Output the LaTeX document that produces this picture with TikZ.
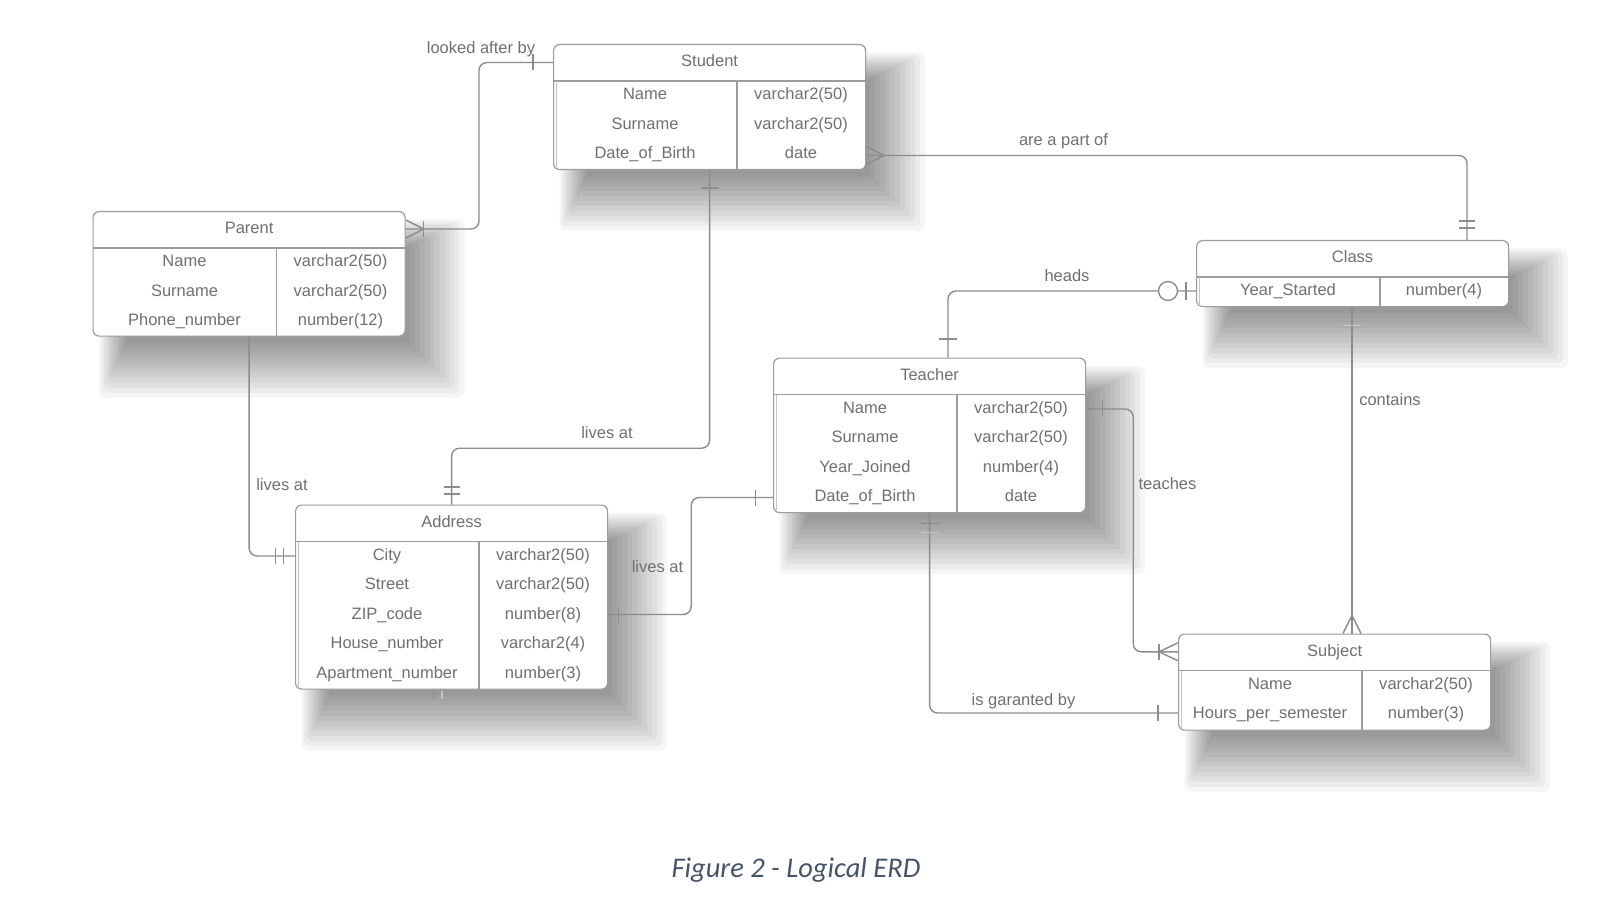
\documentclass[tikz,border=0pt]{standalone}
\usepackage{fontspec}
\setmainfont{Liberation Sans}
\newfontfamily\capfam{Carlito}
\usetikzlibrary{calc,backgrounds}
\definecolor{lngray}{HTML}{8C8C8C}
\definecolor{bxgray}{HTML}{9C9C9C}
\definecolor{txgray}{HTML}{707070}
\definecolor{capblue}{HTML}{44546A}
\newcommand{\erfont}{\fontsize{16.5}{19}\selectfont}
\tikzset{
  entbox/.style={draw=bxgray,fill=white,line width=1.2pt,rounded corners=6pt,minimum width=312pt,inner sep=0pt,anchor=north west},
  bxline/.style={draw=bxgray,line width=1.2pt},
  inline/.style={draw=bxgray!60,line width=1pt},
  ttl/.style={font=\erfont,text=txgray,inner sep=0pt,text height=11.8pt,text depth=3.4pt},
  attr/.style={font=\erfont,text=txgray,inner sep=0pt,text height=11.8pt,text depth=3.4pt},
  rel/.style={draw=lngray,line width=1.4pt,rounded corners=8pt},
  barln/.style={draw=lngray,line width=1.4pt},
  relbl/.style={font=\erfont,text=txgray,inner sep=0pt,text height=11.8pt,text depth=3.4pt},
  optcirc/.style={circle,draw=lngray,line width=1.4pt,fill=white,minimum size=19pt,inner sep=0pt},
  caplbl/.style={font=\capfam\itshape\fontsize{28.5}{32}\selectfont,text=capblue,inner sep=0pt}
}

\begin{document}
\begin{tikzpicture}[x=1pt,y=-1pt]
  \useasboundingbox (0,0) rectangle (1611,909);

  % Student
  \node[entbox,minimum height=125pt] (student) at (553,44) {};
  \draw[bxline] ([shift={(0,37)}]student.north west) -- ([shift={(0,37)}]student.north east);
  \draw[bxline] ([shift={(184,37)}]student.north west) -- ([shift={(184,0)}]student.south west);
  \draw[inline] ([shift={(3,37)}]student.north west) -- ([shift={(3,-3)}]student.south west);
  \node[ttl] (studentT) at ([shift={(0,18.5)}]student.north) {Student};
  \foreach \a/\b [count=\i] in {Name/{varchar2(50)},Surname/{varchar2(50)},Date\_of\_Birth/date}{
    \node[attr] (studentA\i) at ([shift={(92,22.3+29.4*\i)}]student.north west) {\a};
    \node[attr] (studentB\i) at ([shift={(248,22.3+29.4*\i)}]student.north west) {\b};
  }

  % Parent
  \node[entbox,minimum height=124.5pt] (parent) at (92.5,211) {};
  \draw[bxline] ([shift={(0,37)}]parent.north west) -- ([shift={(0,37)}]parent.north east);
  \draw[bxline] ([shift={(184,37)}]parent.north west) -- ([shift={(184,0)}]parent.south west);
  \node[ttl] (parentT) at ([shift={(0,18.5)}]parent.north) {Parent};
  \foreach \a/\b [count=\i] in {Name/{varchar2(50)},Surname/{varchar2(50)},Phone\_number/{number(12)}}{
    \node[attr] (parentA\i) at ([shift={(92,22.3+29.4*\i)}]parent.north west) {\a};
    \node[attr] (parentB\i) at ([shift={(248,22.3+29.4*\i)}]parent.north west) {\b};
  }

  % Class
  \node[entbox,minimum height=66pt] (class) at (1196,240) {};
  \draw[bxline] ([shift={(0,37)}]class.north west) -- ([shift={(0,37)}]class.north east);
  \draw[bxline] ([shift={(184,37)}]class.north west) -- ([shift={(184,0)}]class.south west);
  \draw[inline] ([shift={(3,37)}]class.north west) -- ([shift={(3,-3)}]class.south west);
  \node[ttl] (classT) at ([shift={(0,18.5)}]class.north) {Class};
  \node[attr] (classA1) at ([shift={(92,51.7)}]class.north west) {Year\_Started};
  \node[attr] (classB1) at ([shift={(248,51.7)}]class.north west) {number(4)};

  % Teacher
  \node[entbox,minimum height=154.5pt] (teacher) at (773,357.5) {};
  \draw[bxline] ([shift={(0,37)}]teacher.north west) -- ([shift={(0,37)}]teacher.north east);
  \draw[bxline] ([shift={(184,37)}]teacher.north west) -- ([shift={(184,0)}]teacher.south west);
  \draw[inline] ([shift={(3,37)}]teacher.north west) -- ([shift={(3,-3)}]teacher.south west);
  \node[ttl] (teacherT) at ([shift={(0,18.5)}]teacher.north) {Teacher};
  \foreach \a/\b [count=\i] in {Name/{varchar2(50)},Surname/{varchar2(50)},Year\_Joined/{number(4)},Date\_of\_Birth/date}{
    \node[attr] (teacherA\i) at ([shift={(92,22.3+29.4*\i)}]teacher.north west) {\a};
    \node[attr] (teacherB\i) at ([shift={(248,22.3+29.4*\i)}]teacher.north west) {\b};
  }

  % Address
  \node[entbox,minimum height=184pt] (address) at (295,504.5) {};
  \draw[bxline] ([shift={(0,37)}]address.north west) -- ([shift={(0,37)}]address.north east);
  \draw[bxline] ([shift={(184,37)}]address.north west) -- ([shift={(184,0)}]address.south west);
  \draw[inline] ([shift={(3,37)}]address.north west) -- ([shift={(3,-3)}]address.south west);
  \node[ttl] (addressT) at ([shift={(0,18.5)}]address.north) {Address};
  \foreach \a/\b [count=\i] in {City/{varchar2(50)},Street/{varchar2(50)},ZIP\_code/{number(8)},House\_number/{varchar2(4)},Apartment\_number/{number(3)}}{
    \node[attr] (addressA\i) at ([shift={(92,22.3+29.4*\i)}]address.north west) {\a};
    \node[attr] (addressB\i) at ([shift={(248,22.3+29.4*\i)}]address.north west) {\b};
  }

  % Subject
  \node[entbox,minimum height=96pt] (subject) at (1178,633.5) {};
  \draw[bxline] ([shift={(0,37)}]subject.north west) -- ([shift={(0,37)}]subject.north east);
  \draw[bxline] ([shift={(184,37)}]subject.north west) -- ([shift={(184,0)}]subject.south west);
  \draw[inline] ([shift={(3,37)}]subject.north west) -- ([shift={(3,-3)}]subject.south west);
  \node[ttl] (subjectT) at ([shift={(0,18.5)}]subject.north) {Subject};
  \foreach \a/\b [count=\i] in {Name/{varchar2(50)},Hours\_per\_semester/{number(3)}}{
    \node[attr] (subjectA\i) at ([shift={(92,22.3+29.4*\i)}]subject.north west) {\a};
    \node[attr] (subjectB\i) at ([shift={(248,22.3+29.4*\i)}]subject.north west) {\b};
  }

  % connection points
  \coordinate (stuL) at ([shift={(0,18.5)}]student.north west);
  \coordinate (stuR) at ([shift={(0,111.5)}]student.north east);
  \coordinate (parR) at ([shift={(0,18)}]parent.north east);
  \coordinate (claT) at ([shift={(271,0)}]class.north west);
  \coordinate (claL) at ([shift={(0,51)}]class.north west);
  \coordinate (claB) at ([shift={(156,0)}]class.south west);
  \coordinate (teaL) at ([shift={(0,140)}]teacher.north west);
  \coordinate (teaT) at ([shift={(175,0)}]teacher.north west);
  \coordinate (teaR) at ([shift={(0,51.5)}]teacher.north east);
  \coordinate (adrL) at ([shift={(0,51.5)}]address.north west);
  \coordinate (adrR) at ([shift={(0,110)}]address.north east);
  \coordinate (subL) at ([shift={(0,18.3)}]subject.north west);
  \coordinate (subH) at ([shift={(0,79.5)}]subject.north west);
  \coordinate (subT) at (claB |- subject.north);

  % looked after by
  \draw[rel] (stuL) -- ++(-74,0) |- (parR);
  \draw[barln] ($(stuL)+(-20,-8)$) -- ($(stuL)+(-20,8)$);
  \draw[barln] ($(parR)+(0,-9)$) -- ($(parR)+(18,0)$) -- ($(parR)+(0,9)$);
  \draw[barln] ($(parR)+(18,-8)$) -- ($(parR)+(18,8)$);
  \node[relbl] (lblLook) at (481,49) {looked after by};

  % are a part of
  \draw[rel] (stuR) -| (claT);
  \draw[barln] ($(stuR)+(0,-9)$) -- ($(stuR)+(18,0)$) -- ($(stuR)+(0,9)$);
  \draw[barln] ($(claT)+(-8,-19)$) -- ($(claT)+(8,-19)$);
  \draw[barln] ($(claT)+(-8,-12)$) -- ($(claT)+(8,-12)$);
  \node[relbl] (lblPart) at (1063.5,141) {are a part of};

  % lives at (student)
  \draw[rel] (student.south) -- ++(0,278) -| (address.north);
  \draw[barln] ($(student.south)+(-9,18)$) -- ($(student.south)+(9,18)$);
  \draw[barln] ($(address.north)+(-8,-17.5)$) -- ($(address.north)+(8,-17.5)$);
  \draw[barln] ($(address.north)+(-8,-10.5)$) -- ($(address.north)+(8,-10.5)$);
  \node[relbl] (lblLivesA) at (607,434) {lives at};

  % lives at (parent)
  \draw[rel] (parent.south) |- (adrL);
  \draw[barln] ($(adrL)+(-19.5,-8)$) -- ($(adrL)+(-19.5,8)$);
  \draw[barln] ($(adrL)+(-11.5,-8)$) -- ($(adrL)+(-11.5,8)$);
  \node[relbl] (lblLivesB) at (282,486.5) {lives at};

  % lives at (teacher)
  \draw[rel] (adrR) -- ++(83,0) |- (teaL);
  \draw[barln] ($(adrR)+(10.5,-8)$) -- ($(adrR)+(10.5,8)$);
  \draw[barln] ($(teaL)+(-17.5,-8)$) -- ($(teaL)+(-17.5,8)$);
  \draw[barln] ([shift={(-18,1)}]address.south) -- ([shift={(-18,9)}]address.south);
  \draw[barln,lngray!50] ([shift={(-9.5,1)}]address.south) -- ([shift={(-9.5,9)}]address.south);
  \node[relbl] (lblLivesC) at (657.5,568.5) {lives at};

  % heads
  \draw[rel] (claL) -| (teaT);
  \draw[barln] ($(claL)+(-10,-8.5)$) -- ($(claL)+(-10,8.5)$);
  \node[optcirc] (headsO) at ($(claL)+(-28,0)$) {};
  \draw[barln] ($(teaT)+(-9,-18.5)$) -- ($(teaT)+(9,-18.5)$);
  \node[relbl] (lblHeads) at (1067,277.5) {heads};

  % contains
  \draw[rel] (claB) -- (subT);
  \draw[barln,lngray!50] ($(claB)+(-9,18)$) -- ($(claB)+(9,18)$);
  \draw[barln] ($(subT)+(-9,0)$) -- ($(subT)+(0,-18)$) -- ($(subT)+(9,0)$);
  \node[relbl] (lblContains) at (1390,401) {contains};

  % teaches
  \draw[rel] (teaR) -- ++(47,0) |- (subL);
  \draw[barln] ($(teaR)+(16,-8)$) -- ($(teaR)+(16,8)$);
  \draw[barln] ($(subL)+(0,-9)$) -- ($(subL)+(-19,0)$) -- ($(subL)+(0,9)$);
  \draw[barln] ($(subL)+(-19,-8)$) -- ($(subL)+(-19,8)$);
  \node[relbl] (lblTeaches) at (1167.5,485.5) {teaches};

  % is garanted by
  \draw[rel] (teacher.south) |- (subH);
  \draw[barln] ($(teacher.south)+(-9,10)$) -- ($(teacher.south)+(9,10)$);
  \draw[barln,lngray!50] ($(teacher.south)+(-9,19)$) -- ($(teacher.south)+(9,19)$);
  \draw[barln] ($(subH)+(-20,-8)$) -- ($(subH)+(-20,8)$);
  \node[relbl] (lblGarant) at (1023.5,701) {is garanted by};

  \node[caplbl] (caption) at (796,870) {Figure 2 - Logical ERD};

  % shadows
  \begin{scope}[on background layer]
    \fill[white] (0,0) rectangle (1611,909);
    \foreach \e in {student,parent,class,teacher,address,subject}
      \foreach \k [evaluate=\k as \rc using 2+4*(\k+4)] in {-4,...,7}
        \fill[black,opacity=0.04,rounded corners=\rc pt]
          ([shift={(24-2.5*\k,26-2.5*\k)}]\e.north west) rectangle ([shift={(24+5*\k,26+5*\k)}]\e.south east);
  \end{scope}
\end{tikzpicture}
\end{document}
